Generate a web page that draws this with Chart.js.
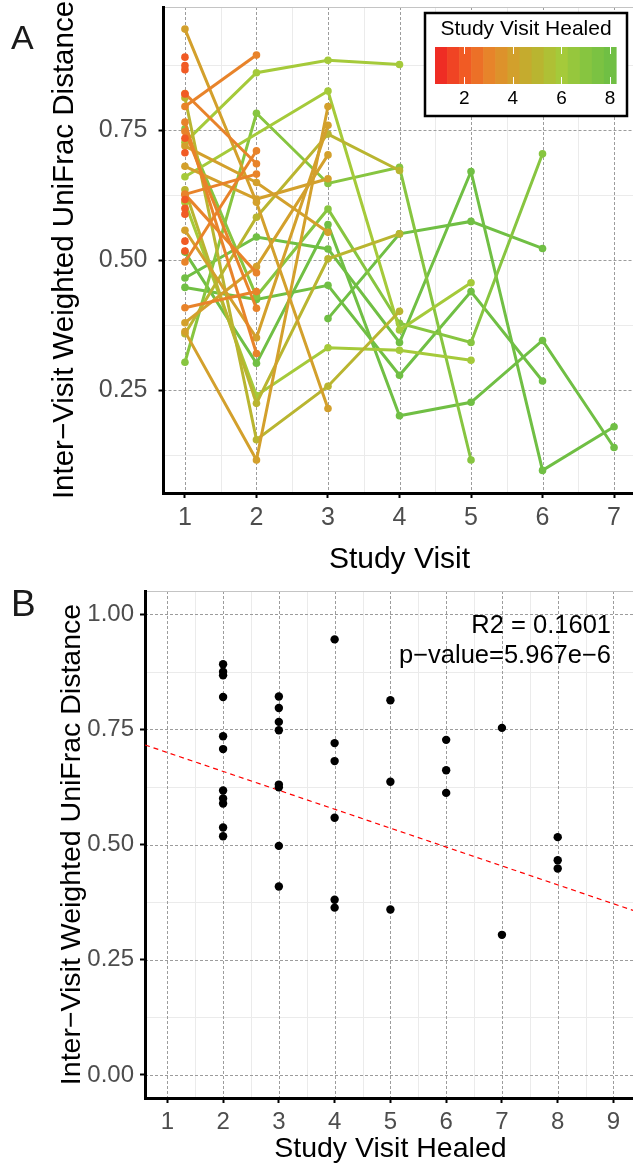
<!DOCTYPE html>
<html>
<head>
<meta charset="utf-8">
<title>Inter-visit weighted UniFrac distance</title>
<script src="https://cdn.jsdelivr.net/npm/chart.js@4.4.1/dist/chart.umd.min.js"></script>
<style>
  html, body { margin: 0; padding: 0; background: #fff; }
  body { width: 633px; height: 1168px; overflow: hidden; position: relative; }
  canvas { position: absolute; left: 0; }
  #chartA { top: 0; }
  #chartB { top: 585px; }
</style>
</head>
<body>
<canvas id="chartA" width="640" height="585"></canvas>
<canvas id="chartB" width="640" height="583"></canvas>
<script>
const FONT = '"Liberation Sans", Arial, Helvetica, sans-serif';

// panel A: inter-visit distance at each study visit, one row per subject,
// grouped by the visit the wound healed at (null = no sample that visit)
const visits = [1, 2, 3, 4, 5, 6, 7];
const healed2 = [[0.891], [0.875], [0.867], [0.820], [0.735], [0.707], [0.617], [0.600], [0.589], [0.537], [0.518]];
const healed3 = [[0.821, 0.686], [0.796, 0.895], [0.766, 0.321], [0.748, 0.408], [0.627, 0.666], [0.627, 0.476], [0.497, 0.711], [0.409, 0.440]];
const healed4 = [[0.945, 0.612, 0.215], [0.720, 0.650, 0.554], [0.681, 0.618, 0.657], [0.558, 0.351, 0.760], [0.380, 0.488, 0.703], [0.363, 0.116, 0.796]];
const healed5 = [[0.813, 0.155, 0.258, 0.402], [0.636, 0.225, 0.503, 0.551], [0.359, 0.583, 0.743, 0.673]];
const healed6 = [[0.727, 0.861, 0.885, 0.877], [0.661, null, 0.826, 0.366, 0.457], [0.612, 0.240, 0.332, 0.327, 0.308]];
const healed7 = [[0.304, 0.783, 0.648, 0.679, 0.116], [0.753, 0.431, 0.599, 0.379, 0.342, 0.705]];
const healed8 = [[0.516, 0.302, 0.569, 0.201, 0.227, 0.346, 0.140], [0.466, 0.545, 0.522, 0.342, 0.671, 0.096, 0.180],
                 [0.448, 0.425, 0.452, 0.279, 0.440, 0.268], [null, null, 0.388, 0.551, 0.575, 0.523]];
const yTicksA = [0.25, 0.50, 0.75];

// panel B: first inter-visit distance against the visit healed
const healedVisit = [2, 2, 2, 2, 2, 2, 2, 2, 2, 2, 2, 3, 3, 3, 3, 3, 3, 3, 3, 4, 4, 4, 4, 4, 4, 5, 5, 5, 6, 6, 6, 7, 7, 8, 8, 8];
const firstDistance = [0.891, 0.875, 0.867, 0.820, 0.735, 0.707, 0.617, 0.600, 0.589, 0.537, 0.518,
                       0.821, 0.796, 0.766, 0.748, 0.630, 0.624, 0.497, 0.409,
                       0.945, 0.720, 0.681, 0.558, 0.380, 0.363,
                       0.813, 0.636, 0.359,
                       0.727, 0.661, 0.612,
                       0.753, 0.304,
                       0.516, 0.466, 0.448];
const xTicksB = [1, 2, 3, 4, 5, 6, 7, 8, 9];
const yTicksB = [0.00, 0.25, 0.50, 0.75, 1.00];
const fitX = [0.6, 9.4];        // ends of the fitted line
const fitY = [0.716, 0.355];
const statLines = ['R2 = 0.1601', 'p\u2212value=5.967e\u22126'];

// colour scale for "Study Visit Healed"
const colourBreaks = [2, 4, 6, 8];
const colourLimits = [0.79, 8.25];
const colourStops = [0.79, 2, 3, 4, 5, 6, 7, 8.25];
const colourHex = ['#EE2124', '#F15A24', '#E8832A', '#D3A02C', '#B9B530', '#A5CA3A', '#87C540', '#6ABD45'];

function hexRgb(h) {
  return [1, 3, 5].map(i => parseInt(h.substr(i, 2), 16));
}
function colourAt(v) {
  if (v <= colourStops[0]) return colourHex[0];
  for (let i = 1; i < colourStops.length; i++) {
    if (v <= colourStops[i]) {
      const t = (v - colourStops[i - 1]) / (colourStops[i] - colourStops[i - 1]);
      const a = hexRgb(colourHex[i - 1]), b = hexRgb(colourHex[i]);
      const c = a.map((x, k) => Math.round(x + (b[k] - x) * t));
      return 'rgb(' + c.join(',') + ')';
    }
  }
  return colourHex[colourHex.length - 1];
}

function minorsOf(majors) {
  const step = majors[1] - majors[0];
  const out = [majors[0] - step / 2];
  majors.forEach(v => out.push(v + step / 2));
  return out;
}

// ggplot-like background grid: solid minor lines, dashed major lines
const ggGrid = {
  id: 'ggGrid',
  beforeDraw(chart, args, o) {
    const {ctx, chartArea: a} = chart;
    const xs = chart.scales.x, ys = chart.scales.y;
    ctx.save();
    ctx.beginPath();
    ctx.rect(a.left, a.top, a.right - a.left, a.bottom - a.top);
    ctx.clip();
    const vline = v => {
      const p = Math.round(xs.getPixelForValue(v)) + 0.5;
      ctx.beginPath(); ctx.moveTo(p, a.top); ctx.lineTo(p, a.bottom); ctx.stroke();
    };
    const hline = v => {
      const p = Math.round(ys.getPixelForValue(v)) + 0.5;
      ctx.beginPath(); ctx.moveTo(a.left, p); ctx.lineTo(a.right, p); ctx.stroke();
    };
    ctx.lineWidth = 1;
    ctx.strokeStyle = '#EBEBEB';
    minorsOf(o.x).forEach(vline);
    minorsOf(o.y).forEach(hline);
    ctx.strokeStyle = '#9C9C9C';
    ctx.setLineDash([3, 2]);
    o.x.forEach(vline);
    o.y.forEach(hline);
    ctx.setLineDash([]);
    ctx.strokeStyle = '#C4C4C4';
    ctx.beginPath();
    ctx.moveTo(a.left, a.top + 0.5);
    ctx.lineTo(a.right, a.top + 0.5);
    ctx.stroke();
    ctx.restore();
  }
};

// panel letter and free text
const panelText = {
  id: 'panelText',
  afterDraw(chart, args, o) {
    const ctx = chart.ctx;
    ctx.save();
    (o.items || []).forEach(t => {
      ctx.font = t.size + 'px ' + FONT;
      ctx.fillStyle = t.color || '#000';
      ctx.textAlign = t.align || 'left';
      ctx.textBaseline = 'alphabetic';
      ctx.fillText(t.text, t.x, t.y);
    });
    ctx.restore();
  }
};

// colourbar legend drawn inside panel A
const colourBar = {
  id: 'colourBar',
  afterDraw(chart, args, o) {
    if (!o.show) return;
    const ctx = chart.ctx;
    const box = {l: 425, t: 13, r: 627, b: 116};
    const bar = {l: 435, t: 47, r: 616, b: 84};
    ctx.save();
    ctx.fillStyle = '#fff';
    ctx.fillRect(box.l, box.t, box.r - box.l, box.b - box.t);
    const bins = 15;
    const w = (bar.r - bar.l) / bins;
    for (let i = 0; i < bins; i++) {
      const v = colourLimits[0] + (i + 0.5) / bins * (colourLimits[1] - colourLimits[0]);
      ctx.fillStyle = colourAt(v);
      ctx.fillRect(bar.l + i * w, bar.t, w + 0.6, bar.b - bar.t);
    }
    const px = v => bar.l + (v - colourLimits[0]) / (colourLimits[1] - colourLimits[0]) * (bar.r - bar.l);
    ctx.strokeStyle = '#fff';
    ctx.lineWidth = 1;
    colourBreaks.forEach(v => {
      const x = Math.round(px(v)) + 0.5;
      ctx.beginPath();
      ctx.moveTo(x, bar.t); ctx.lineTo(x, bar.t + 7);
      ctx.moveTo(x, bar.b - 7); ctx.lineTo(x, bar.b);
      ctx.stroke();
    });
    ctx.fillStyle = '#000';
    ctx.textAlign = 'center';
    ctx.textBaseline = 'alphabetic';
    ctx.font = '21px ' + FONT;
    ctx.fillText('Study Visit Healed', (box.l + box.r) / 2, 35);
    ctx.font = '19px ' + FONT;
    colourBreaks.forEach(v => ctx.fillText(String(v), px(v), 103.5));
    ctx.strokeStyle = '#000';
    ctx.lineWidth = 2.5;
    ctx.strokeRect(box.l, box.t, box.r - box.l, box.b - box.t);
    ctx.restore();
  }
};

Chart.register(ggGrid, panelText, colourBar);

function axisStyle(size) {
  return {
    grid: {drawOnChartArea: false, drawTicks: true, tickLength: 5, tickWidth: 2, tickColor: '#000'},
    border: {display: true, color: '#000', width: 3},
    ticks: {color: '#4D4D4D', font: {family: FONT, size: size}, maxRotation: 0, autoSkip: false}
  };
}

// keep the plot area exactly where the layout padding puts it
function fixBox(prop, size) {
  return s => {
    s[prop] = size;
    s.paddingTop = 0; s.paddingBottom = 0; s.paddingLeft = 0; s.paddingRight = 0;
  };
}

// ---------- panel A ----------
const groupsA = [[2, healed2], [3, healed3], [4, healed4], [5, healed5], [6, healed6], [7, healed7], [8, healed8]];
const datasetsA = [];
groupsA.forEach(([heal, rows]) => {
  const c = colourAt(heal);
  rows.forEach(row => {
    datasetsA.push({
      data: row.map((d, i) => d == null ? null : {x: visits[i], y: d}).filter(p => p),
      borderColor: c,
      backgroundColor: c,
      pointBackgroundColor: c,
      pointBorderWidth: 0,
      pointRadius: 3.8,
      borderWidth: 3,
      tension: 0
    });
  });
});

const axA = axisStyle(25);
const axAy = axisStyle(25);
new Chart(document.getElementById('chartA'), {
  type: 'line',
  data: {datasets: datasetsA},
  options: {
    responsive: false,
    animation: false,
    layout: {padding: {top: 7, right: 4.5, left: 0, bottom: 0}},
    plugins: {
      legend: {display: false},
      tooltip: {enabled: false},
      ggGrid: {x: visits, y: yTicksA},
      colourBar: {show: true},
      panelText: {items: [{text: 'A', x: 11, y: 48.5, size: 34, color: '#1A1A1A'}]}
    },
    scales: {
      x: Object.assign(axA, {
        type: 'linear', min: 0.7, max: 7.3,
        afterBuildTicks: s => { s.ticks = visits.map(v => ({value: v})); },
        afterFit: fixBox('height', 92),
        ticks: Object.assign(axA.ticks, {padding: 5, callback: v => String(v)}),
        title: {display: true, text: 'Study Visit', color: '#000', font: {family: FONT, size: 30}, padding: {top: 0, bottom: 7}}
      }),
      y: Object.assign(axAy, {
        min: 0.0525, max: 0.9875,
        afterBuildTicks: s => { s.ticks = yTicksA.map(v => ({value: v})); },
        afterFit: fixBox('width', 163.5),
        ticks: Object.assign(axAy.ticks, {padding: 11, callback: v => v.toFixed(2)}),
        title: {display: true, text: 'Inter\u2212Visit Weighted UniFrac Distance', color: '#000', font: {family: FONT, size: 29.5}, padding: {top: 47, bottom: 0}}
      })
    }
  }
});

// ---------- panel B ----------
const axB = axisStyle(24);
const axBy = axisStyle(24);
new Chart(document.getElementById('chartB'), {
  type: 'scatter',
  data: {
    datasets: [
      {
        data: healedVisit.map((h, i) => ({x: h, y: firstDistance[i]})),
        backgroundColor: '#000',
        pointBorderWidth: 0,
        pointRadius: 4.2
      },
      {
        type: 'line',
        data: fitX.map((x, i) => ({x: x, y: fitY[i]})),
        borderColor: '#FF0000',
        borderWidth: 1.2,
        borderDash: [5, 4],
        pointRadius: 0,
        tension: 0
      }
    ]
  },
  options: {
    responsive: false,
    animation: false,
    layout: {padding: {top: 6, right: 3.6, left: 0, bottom: 0}},
    plugins: {
      legend: {display: false},
      tooltip: {enabled: false},
      ggGrid: {x: xTicksB, y: yTicksB},
      colourBar: {show: false},
      panelText: {items: [
        {text: 'B', x: 11, y: 31, size: 37, color: '#1A1A1A'},
        {text: statLines[0], x: 611, y: 48, size: 25.5, align: 'right'},
        {text: statLines[1], x: 611, y: 77.5, size: 25.5, align: 'right'}
      ]}
    },
    scales: {
      x: Object.assign(axB, {
        type: 'linear', min: 0.6, max: 9.4,
        afterBuildTicks: s => { s.ticks = xTicksB.map(v => ({value: v})); },
        afterFit: fixBox('height', 70),
        ticks: Object.assign(axB.ticks, {padding: 5, callback: v => String(v)}),
        title: {display: true, text: 'Study Visit Healed', color: '#000', font: {family: FONT, size: 28.5}, padding: {top: 0, bottom: 2}}
      }),
      y: Object.assign(axBy, {
        min: -0.05, max: 1.05,
        afterBuildTicks: s => { s.ticks = yTicksB.map(v => ({value: v})); },
        afterFit: fixBox('width', 145),
        ticks: Object.assign(axBy.ticks, {padding: 6, callback: v => v.toFixed(2)}),
        title: {display: true, text: 'Inter\u2212Visit Weighted UniFrac Distance', color: '#000', font: {family: FONT, size: 28.5}, padding: {top: 55, bottom: 0}}
      })
    }
  }
});
</script>
</body>
</html>
